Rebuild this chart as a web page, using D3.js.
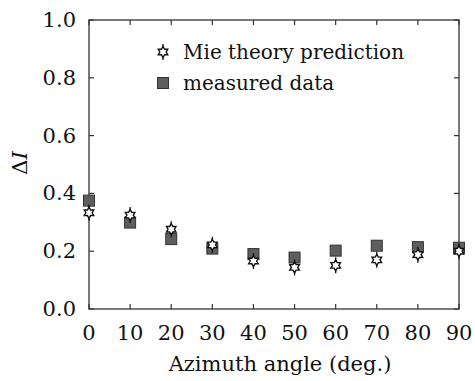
<!DOCTYPE html>
<html>
<head>
<meta charset="utf-8">
<script src="https://cdn.jsdelivr.net/npm/d3@7"></script>
<style>
  body { margin: 0; background: #fff; }
  text { font-family: "DejaVu Serif", "Liberation Serif", serif; fill: #111; }
</style>
</head>
<body>
<div id="chart"></div>
<script>
// chart data
const angles = [0, 10, 20, 30, 40, 50, 60, 70, 80, 90];
const mieValues = [0.333, 0.325, 0.276, 0.222, 0.166, 0.144, 0.151, 0.170, 0.188, 0.200];
const measuredValues = [0.375, 0.299, 0.242, 0.209, 0.190, 0.178, 0.202, 0.219, 0.214, 0.212];
const xTicks = [0, 10, 20, 30, 40, 50, 60, 70, 80, 90];
const yTicks = [0.0, 0.2, 0.4, 0.6, 0.8, 1.0];
const legendNames = ["Mie theory prediction", "measured data"];

const W = 475, H = 381;
const m = {left: 89, right: 16, top: 20, bottom: 72};

let svg = d3.select("#chart").append("svg")
  .attr("width", W)
  .attr("height", H);

let x = d3.scaleLinear().domain([0, 90]).range([m.left, W - m.right]);
let y = d3.scaleLinear().domain([0, 1]).range([H - m.bottom, m.top]);

const axisColor = "#333";
const tickLen = 5;

// frame
svg.append("rect")
  .attr("x", x(0)).attr("y", y(1))
  .attr("width", x(90) - x(0)).attr("height", y(0) - y(1))
  .attr("fill", "none").attr("stroke", axisColor).attr("stroke-width", 1.3);

// inward ticks on all four sides
let ticks = svg.append("g").attr("stroke", axisColor).attr("stroke-width", 1.2);
xTicks.forEach(function(t) {
  ticks.append("line").attr("x1", x(t)).attr("x2", x(t)).attr("y1", y(0)).attr("y2", y(0) - tickLen);
  ticks.append("line").attr("x1", x(t)).attr("x2", x(t)).attr("y1", y(1)).attr("y2", y(1) + tickLen);
});
yTicks.forEach(function(t) {
  ticks.append("line").attr("x1", x(0)).attr("x2", x(0) + tickLen).attr("y1", y(t)).attr("y2", y(t));
  ticks.append("line").attr("x1", x(90)).attr("x2", x(90) - tickLen).attr("y1", y(t)).attr("y2", y(t));
});

// tick labels
svg.append("g").selectAll("text")
  .data(xTicks).enter().append("text")
  .attr("x", d => x(d))
  .attr("y", y(0) + 31)
  .attr("text-anchor", "middle")
  .style("font-size", "21px")
  .text(d => d);

svg.append("g").selectAll("text")
  .data(yTicks).enter().append("text")
  .attr("x", x(0) - 13)
  .attr("y", d => y(d) + 7)
  .attr("text-anchor", "end")
  .style("font-size", "21px")
  .text(d => d3.format(".1f")(d));

// axis titles
svg.append("text")
  .attr("x", (x(0) + x(90)) / 2 + 6)
  .attr("y", H - 10)
  .attr("text-anchor", "middle")
  .style("font-size", "21px")
  .text("Azimuth angle (deg.)");

let yTitle = svg.append("text")
  .attr("transform", "translate(27,163) rotate(-90)")
  .attr("text-anchor", "middle")
  .style("font-size", "21px");
yTitle.append("tspan").text("Δ");
yTitle.append("tspan").style("font-style", "italic").text("I");

// hexagram marker path
function hexagram(cx, cy, r) {
  let pts = [];
  for (let i = 0; i < 12; i++) {
    let a = -Math.PI / 2 + i * Math.PI / 6;
    let rr = (i % 2 === 0) ? r : r * 0.58;
    pts.push([cx + rr * Math.cos(a), cy + rr * Math.sin(a)]);
  }
  return d3.line()(pts) + "Z";
}

function drawStar(g, cx, cy) {
  g.append("line")
    .attr("x1", cx).attr("x2", cx).attr("y1", cy - 8).attr("y2", cy + 8)
    .attr("stroke", "#111").attr("stroke-width", 1.3);
  g.append("path")
    .attr("d", hexagram(cx, cy, 5.5))
    .attr("fill", "#fff")
    .attr("stroke", "#111")
    .attr("stroke-width", 1.4);
}

function drawSquare(g, cx, cy) {
  g.append("rect")
    .attr("x", cx - 5.5).attr("y", cy - 5.5)
    .attr("width", 11).attr("height", 11)
    .attr("fill", "#5e5e5e")
    .attr("stroke", "#333")
    .attr("stroke-width", 1);
}

// measured squares drawn first, stars on top where they overlap
let marks = svg.append("g");
angles.forEach(function(a, i) {
  drawSquare(marks, x(a), y(measuredValues[i]));
});
angles.forEach(function(a, i) {
  drawStar(marks, x(a), y(mieValues[i]));
});

// legend
let legend = svg.append("g");
drawStar(legend, 163, 52);
drawSquare(legend, 163, 83);
legend.selectAll("text")
  .data(legendNames).enter().append("text")
  .attr("x", 183)
  .attr("y", (d, i) => 59 + i * 31)
  .style("font-size", "20px")
  .text(d => d);
</script>
</body>
</html>
